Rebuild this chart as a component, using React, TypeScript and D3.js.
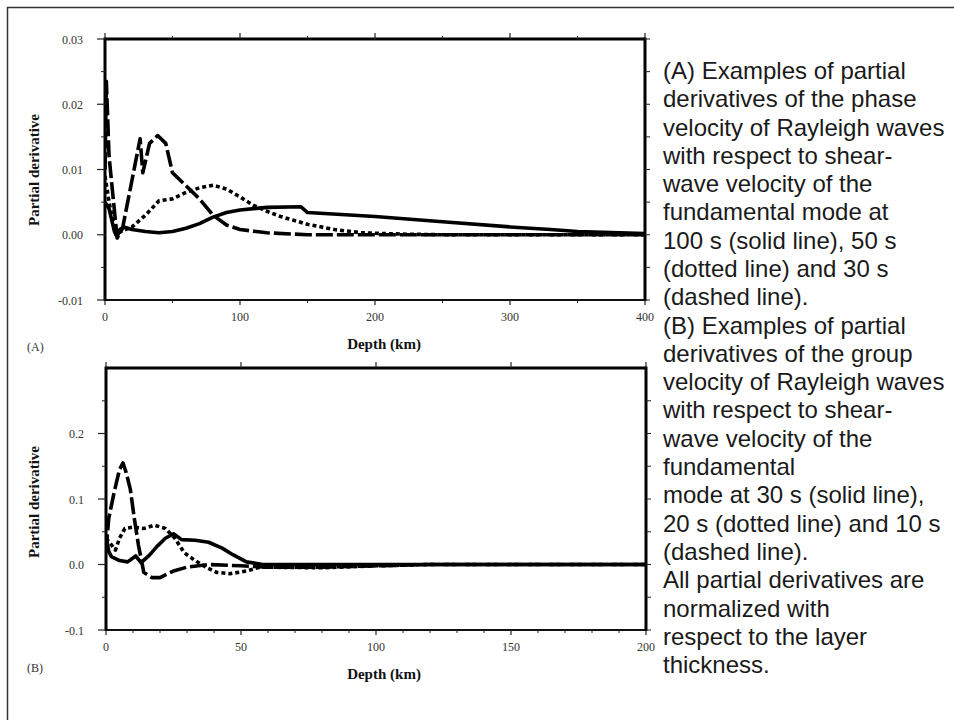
import React from "react";
import * as d3 from "d3";

// ---------- Data ----------
// Panel A: phase velocity partial derivatives (depth km, value)
const aSolidDepth = [0, 3, 7, 9, 11, 14, 20, 30, 40, 50, 60, 70, 80, 90, 100, 120, 145, 150, 200, 250, 300, 330, 350, 400];
const aSolidValue = [0.005, 0.004, 0.0005, -0.0003, 0.0008, 0.0012, 0.0008, 0.0005, 0.0003, 0.0005, 0.001, 0.0017, 0.0027, 0.0034, 0.0038, 0.0042, 0.0043, 0.0034, 0.0028, 0.002, 0.0012, 0.0008, 0.0005, 0.0002];

const aDottedDepth = [0, 3, 8, 12, 20, 30, 40, 50, 60, 70, 80, 90, 100, 110, 120, 130, 150, 170, 190, 220, 250, 400];
const aDottedValue = [0.009, 0.005, 0.0, 0.0005, 0.0012, 0.003, 0.0052, 0.0055, 0.0065, 0.0072, 0.0076, 0.007, 0.0058, 0.0045, 0.0036, 0.0028, 0.0016, 0.0008, 0.0003, 0.0001, 0.0, 0.0];

const aDashedDepth = [0, 1, 3, 9, 13, 26, 28, 33, 39, 45, 50, 60, 70, 80, 90, 100, 120, 150, 400];
const aDashedValue = [0.01, 0.0235, 0.012, -0.0005, 0.001, 0.0147, 0.0095, 0.014, 0.0152, 0.014, 0.0095, 0.0075, 0.0055, 0.003, 0.0015, 0.0008, 0.0003, 0.0, 0.0];

// Panel B: group velocity partial derivatives
const bSolidDepth = [0, 1, 2, 5, 8, 11, 13, 16, 19, 22, 25, 28, 33, 38, 43, 47, 52, 58, 200];
const bSolidValue = [0.045, 0.02, 0.012, 0.006, 0.004, 0.013, 0.003, 0.014, 0.028, 0.04, 0.047, 0.038, 0.037, 0.034, 0.025, 0.015, 0.004, 0.0, 0.0];

const bDottedDepth = [0, 2, 3.5, 5, 7, 10, 14, 18, 22, 25.5, 29, 33, 37, 41, 46, 52, 57, 80, 100, 120, 200];
const bDottedValue = [0.04, 0.03, 0.022, 0.04, 0.055, 0.057, 0.055, 0.06, 0.055, 0.04, 0.018, 0.006, -0.004, -0.012, -0.014, -0.01, -0.004, -0.005, -0.002, 0.0, 0.0];

const bDashedDepth = [0, 1, 3, 5, 6.3, 7.5, 9, 10.5, 12, 14, 17, 20, 25, 30, 38, 50, 60, 80, 100, 120, 200];
const bDashedValue = [0.02, 0.07, 0.11, 0.145, 0.155, 0.14, 0.115, 0.07, 0.03, -0.012, -0.02, -0.02, -0.01, -0.004, 0.0, -0.002, -0.004, -0.004, -0.002, 0.0, 0.0];

// Axis ticks
const aXMajor = [0, 100, 200, 300, 400];
const aXMinor = [50, 150, 250, 350];
const aYMajor = [-0.01, 0, 0.01, 0.02, 0.03];
const aYLabels = ["-0.01", "0.00", "0.01", "0.02", "0.03"];
const aYMinor = [-0.005, 0.005, 0.015, 0.025];

const bXMajor = [0, 50, 100, 150, 200];
const bXMinor = [10, 20, 30, 40, 60, 70, 80, 90, 110, 120, 130, 140, 160, 170, 180, 190];
const bYMajor = [-0.1, 0, 0.1, 0.2];
const bYLabels = ["-0.1", "0.0", "0.1", "0.2"];
const bYMinor = [-0.05, 0.05, 0.15, 0.25];

const captionLines = [
  "(A) Examples of partial",
  "derivatives of the phase",
  "velocity of Rayleigh waves",
  "with respect to shear-",
  "wave velocity of the",
  "fundamental mode at",
  "100 s (solid line), 50 s",
  "(dotted line) and 30 s",
  "(dashed line).",
  "(B) Examples of partial",
  "derivatives of the group",
  "velocity of Rayleigh waves",
  "with respect to shear-",
  "wave velocity of the",
  "fundamental",
  "mode at 30 s (solid line),",
  "20 s (dotted line) and 10 s",
  "(dashed line).",
  "All partial derivatives are",
  "normalized with",
  "respect to the layer",
  "thickness.",
];

const zip = (xs: number[], ys: number[]) => xs.map((x, i) => [x, ys[i]] as [number, number]);

const SERIF = "'Liberation Serif', 'Times New Roman', Times, serif";
const SANS = "'Liberation Sans', Arial, Helvetica, sans-serif";

type PanelProps = {
  id: string;
  x: d3.ScaleLinear<number, number>;
  y: d3.ScaleLinear<number, number>;
  xMajor: number[];
  xMinor: number[];
  yMajor: number[];
  yLabels: string[];
  yMinor: number[];
  topMinor: boolean;
  series: { pts: [number, number][]; dash: string | null }[];
  label: string;
  labelY: number;
  yTitleY: number;
};

function Panel(p: PanelProps) {
  const { x, y } = p;
  const [x0, x1] = x.range();
  const [yb, yt] = y.range();
  const line = d3
    .line<[number, number]>()
    .x((d) => x(d[0]))
    .y((d) => y(d[1]));
  const tickColor = "#222";
  return (
    <g>
      <defs>
        <clipPath id={`clip-${p.id}`}>
          <rect x={x0} y={yt - 2} width={x1 - x0 + 2} height={yb - yt + 4} />
        </clipPath>
      </defs>
      {/* curves */}
      <g clipPath={`url(#clip-${p.id})`}>
        {p.series.map((s, i) => (
          <path
            key={i}
            d={line(s.pts) || ""}
            fill="none"
            stroke="#000"
            strokeWidth={3.6}
            strokeDasharray={s.dash || undefined}
            strokeLinejoin="round"
          />
        ))}
      </g>
      {/* frame */}
      <line x1={x0} x2={x1} y1={yb} y2={yb} stroke="#111" strokeWidth={2} />
      <line x1={x0} x2={x1} y1={yt} y2={yt} stroke="#000" strokeWidth={3} />
      <line x1={x0} x2={x0} y1={yt - 1.5} y2={yb + 1} stroke="#000" strokeWidth={3} />
      <line x1={x1} x2={x1} y1={yt - 1.5} y2={yb + 1} stroke="#000" strokeWidth={3} />
      {/* left ticks */}
      {p.yMajor.map((v) => (
        <line key={`lm${v}`} x1={x0 - 8} x2={x0} y1={y(v)} y2={y(v)} stroke={tickColor} strokeWidth={1.2} />
      ))}
      {p.yMinor.map((v) => (
        <line key={`ln${v}`} x1={x0 - 4} x2={x0} y1={y(v)} y2={y(v)} stroke={tickColor} strokeWidth={1} />
      ))}
      {/* right ticks */}
      {[...p.yMajor, ...p.yMinor].map((v) => (
        <line key={`r${v}`} x1={x1} x2={x1 + 5} y1={y(v)} y2={y(v)} stroke={tickColor} strokeWidth={1} />
      ))}
      {/* bottom ticks */}
      {p.xMajor.map((v) => (
        <line key={`bm${v}`} x1={x(v)} x2={x(v)} y1={yb} y2={yb + 5} stroke={tickColor} strokeWidth={1.2} />
      ))}
      {p.xMinor.map((v) => (
        <line key={`bn${v}`} x1={x(v)} x2={x(v)} y1={yb} y2={yb + 3} stroke={tickColor} strokeWidth={1} />
      ))}
      {/* top ticks */}
      {p.xMajor.map((v) => (
        <line key={`tm${v}`} x1={x(v)} x2={x(v)} y1={yt} y2={yt - 6} stroke={tickColor} strokeWidth={1.2} />
      ))}
      {p.topMinor &&
        p.xMinor.map((v) => (
          <line key={`tn${v}`} x1={x(v)} x2={x(v)} y1={yt} y2={yt - 3} stroke={tickColor} strokeWidth={1} />
        ))}
      {/* y tick labels */}
      {p.yMajor.map((v, i) => (
        <text key={`yl${v}`} x={x0 - 22} y={y(v) + 4.5} textAnchor="end" fontFamily={SERIF} fontSize={12} fill="#333">
          {p.yLabels[i]}
        </text>
      ))}
      {/* x tick labels */}
      {p.xMajor.map((v) => (
        <text key={`xl${v}`} x={x(v)} y={yb + 21} textAnchor="middle" fontFamily={SERIF} fontSize={12} fill="#333">
          {String(v)}
        </text>
      ))}
      {/* titles */}
      <text
        transform={`translate(${39}, ${p.yTitleY}) rotate(-90)`}
        textAnchor="middle"
        fontFamily={SERIF}
        fontWeight="bold"
        fontSize={15}
        fill="#111"
      >
        Partial derivative
      </text>
      <text x={384} y={yb + 49} textAnchor="middle" fontFamily={SERIF} fontWeight="bold" fontSize={15} fill="#111">
        Depth (km)
      </text>
      <text x={27} y={p.labelY} fontFamily={SERIF} fontSize={12} fill="#333">
        {p.label}
      </text>
    </g>
  );
}

export default function App() {
  const xA = d3.scaleLinear().domain([0, 400]).range([105, 645]);
  const yA = d3.scaleLinear().domain([-0.01, 0.03]).range([300, 39]);
  const xB = d3.scaleLinear().domain([0, 200]).range([106, 646]);
  const yB = d3.scaleLinear().domain([-0.1, 0.3]).range([630, 368]);

  const dashed = "17,4";
  const dotted = "4,3";

  return (
    <svg
      width={954}
      height={720}
      style={{ position: "absolute", left: 0, top: 0, background: "#fff" }}
      xmlns="http://www.w3.org/2000/svg"
    >
      <rect x={0} y={0} width={954} height={720} fill="#fff" />
      {/* outer frame */}
      <rect x={7.5} y={7.5} width={980} height={740} fill="none" stroke="#333" strokeWidth={1.5} />
      <Panel
        id="a"
        x={xA}
        y={yA}
        xMajor={aXMajor}
        xMinor={aXMinor}
        yMajor={aYMajor}
        yLabels={aYLabels}
        yMinor={aYMinor}
        topMinor={true}
        series={[
          { pts: zip(aSolidDepth, aSolidValue), dash: null },
          { pts: zip(aDottedDepth, aDottedValue), dash: dotted },
          { pts: zip(aDashedDepth, aDashedValue), dash: dashed },
        ]}
        label="(A)"
        labelY={351}
        yTitleY={170}
      />
      <Panel
        id="b"
        x={xB}
        y={yB}
        xMajor={bXMajor}
        xMinor={bXMinor}
        yMajor={bYMajor}
        yLabels={bYLabels}
        yMinor={bYMinor}
        topMinor={false}
        series={[
          { pts: zip(bSolidDepth, bSolidValue), dash: null },
          { pts: zip(bDottedDepth, bDottedValue), dash: dotted },
          { pts: zip(bDashedDepth, bDashedValue), dash: dashed },
        ]}
        label="(B)"
        labelY={672}
        yTitleY={502}
      />
      {/* caption */}
      <g fontFamily={SANS} fontSize={24} fill="#1a1a1a">
        {captionLines.map((t, i) => (
          <text key={i} x={663} y={79 + i * 28.29}>
            {t}
          </text>
        ))}
      </g>
    </svg>
  );
}
